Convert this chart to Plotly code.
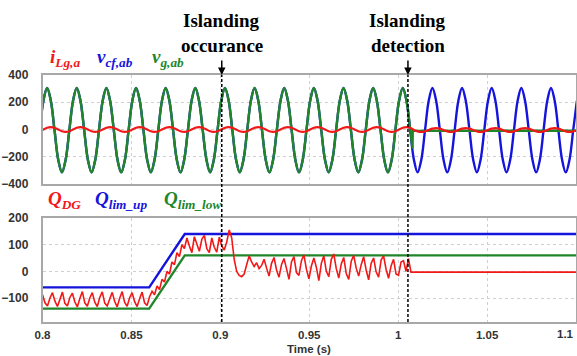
import numpy as np
import plotly.graph_objects as go

# ---------------- data ----------------
# top panel: samples every 1/480 s starting at t0
t0_top = 0.79843
n_top = 146
t_top = [round(t0_top + k / 480.0, 5) for k in range(n_top)]

# v_g,ab (grid voltage) - valid until islanding detection (k = 0..100)
vg_ab = [
    -5, 211, 305, 211, -5, -222, -315, -222,
    -5, 211, 305, 211, -5, -222, -315, -222,
    -5, 211, 305, 211, -5, -222, -315, -222,
    -5, 211, 305, 211, -5, -222, -315, -222,
    -5, 211, 305, 211, -5, -222, -315, -222,
    -5, 211, 305, 211, -5, -222, -315, -222,
    -5, 211, 305, 211, -5, -222, -315, -222,
    -5, 211, 305, 211, -5, -222, -315, -222,
    -5, 211, 305, 211, -5, -222, -315, -222,
    -5, 211, 305, 211, -5, -222, -315, -222,
    -5, 211, 305, 211, -5, -222, -315, -222,
    -5, 211, 305, 211, -5, -222, -315, -222,
    -5, 211, 305, 211, -5,
]
# v_g,ab after detection
vg_tail_t = [1.00677, 1.0081, 1.0082, 1.03, 1.06, 1.1]
vg_tail = [-5, -140, -10, -9, -10, -9]

# v_cf,ab (filter capacitor voltage) over whole window
vcf_ab = [
    -5, 211, 305, 211, -5, -222, -315, -222,
    -5, 211, 305, 211, -5, -222, -315, -222,
    -5, 211, 305, 211, -5, -222, -315, -222,
    -5, 211, 305, 211, -5, -222, -315, -222,
    -5, 211, 305, 211, -5, -222, -315, -222,
    -5, 211, 305, 211, -5, -222, -315, -222,
    -5, 211, 305, 211, -5, -222, -315, -222,
    -5, 211, 305, 211, -5, -222, -315, -222,
    -5, 211, 305, 211, -5, -222, -315, -222,
    -5, 211, 305, 211, -5, -222, -315, -222,
    -5, 211, 305, 211, -5, -222, -315, -222,
    -5, 211, 305, 211, -5, -222, -315, -222,
    -5, 211, 305, 211, -5, -222, -315, -222,
    -5, 211, 305, 211, -5, -222, -315, -222,
    -5, 211, 305, 211, -5, -222, -315, -222,
    -5, 211, 305, 211, -5, -222, -315, -222,
    -5, 211, 305, 211, -5, -222, -315, -222,
    -5, 211, 305, 211, -5, -222, -315, -222,
    -5, 211,
]

# i_Lg,a (grid-side inductor current)
i_lg_a = [
    -13, 0, 13, 18, 13, 0, -13, -18,
    -13, 0, 13, 18, 13, 0, -13, -18,
    -13, 0, 13, 18, 13, 0, -13, -18,
    -13, 0, 13, 18, 13, 0, -13, -18,
    -13, 0, 13, 18, 13, 0, -13, -18,
    -13, 0, 13, 18, 13, 0, -13, -18,
    -13, 0, 13, 18, 13, 0, -13, -18,
    -13, 0, 13, 18, 13, 0, -13, -18,
    -13, 0, 13, 18, 13, 0, -13, -18,
    -13, 0, 13, 18, 13, 0, -13, -18,
    -13, 0, 13, 18, 13, 0, -13, -18,
    -13, 0, 13, 18, 13, 0, -13, -18,
    -13, 0, 13, 18, 13, -4, -14, -18,
    -14, -4, 6, 10, 6, -4, -14, -18,
    -14, -4, 6, 10, 6, -4, -14, -18,
    -14, -4, 6, 10, 6, -4, -14, -18,
    -14, -4, 6, 10, 6, -4, -14, -18,
    -14, -4, 6, 10, 6, -4, -14, -18,
    -14, -4,
]

# bottom panel: reactive power, samples every 0.0014 s from 0.8
q_t = [round(0.8 + 0.0014 * k, 4) for k in range(149)] + [1.1]
q_dg = [
    -88, -118, -130, -100, -80, -112, -132, -105,
    -78, -120, -130, -98, -82, -115, -133, -102,
    -76, -118, -131, -100, -80, -116, -132, -98,
    -77, -119, -130, -104, -79, -113, -133, -101,
    -76, -117, -131, -99, -80, -114, -132, -103,
    -78, -118, -128,
    -95, -75, -88, -55, -68, -30, -40, 0, -10, 35, 25, 70, 55, 100, 85,
    125, 95, 70, 130, 100, 75, 120, 135, 85, 70, 125, 90, 72, 128,
    95, 80, 110, 155, 125, 45, 0, -15, -20, -10, 25, 58, 35, 18, 32, 10,
    22, 45, 12, -18, 30, 52, 5, -22, 25, 48, 10, -30, 35, 55, -5, -15,
    40, 62, 8, -28, 20, 50, 15, -35, 30, 58, 0, -20, 45, 65, 10, -25,
    28, 52, -8, -30, 38, 60, 12, -18, 25, 55, 5, -32, 30, 50, -2, -22,
    42, 58, 8, -26, 20, 45, -10, -15, 35, 40, 0, 48,
    -3, -3,
]
qlim_t = [0.8, 0.86, 0.88, 1.1]
q_lim_up = [-60, -60, 140, 140]
q_lim_low = [-140, -140, 60, 60]

t_islanding = 0.9008
t_detection = 1.0055

x_ticks = [0.8, 0.85, 0.9, 0.95, 1, 1.05, 1.1]
x_ticklabels = ["0.8", "0.85", "0.9", "0.95", "1", "1.05", "1.1"]
y1_ticks = [-400, -200, 0, 200, 400]
y2_ticks = [-100, 0, 100, 200]

# ---------------- figure ----------------
RED = "#f21818"
BLUE = "#1414dc"
GREEN = "#21862a"

fig = go.Figure()
fig.add_trace(go.Scatter(x=t_top, y=vcf_ab, mode="lines", line=dict(color=BLUE, width=2.4, shape="spline"),
                         xaxis="x", yaxis="y", hoverinfo="skip"))
fig.add_trace(go.Scatter(x=t_top[:len(vg_ab)], y=vg_ab, mode="lines",
                         line=dict(color=GREEN, width=2.4, shape="spline"), xaxis="x", yaxis="y", hoverinfo="skip"))
fig.add_trace(go.Scatter(x=vg_tail_t, y=vg_tail, mode="lines", line=dict(color=GREEN, width=2.4),
                         xaxis="x", yaxis="y", hoverinfo="skip"))
fig.add_trace(go.Scatter(x=t_top, y=i_lg_a, mode="lines", line=dict(color=RED, width=2.2, shape="spline"),
                         xaxis="x", yaxis="y", hoverinfo="skip"))

fig.add_trace(go.Scatter(x=qlim_t, y=q_lim_up, mode="lines", line=dict(color=BLUE, width=2.4),
                         xaxis="x2", yaxis="y2", hoverinfo="skip"))
fig.add_trace(go.Scatter(x=qlim_t, y=q_lim_low, mode="lines", line=dict(color=GREEN, width=2.4),
                         xaxis="x2", yaxis="y2", hoverinfo="skip"))
fig.add_trace(go.Scatter(x=q_t, y=q_dg, mode="lines", line=dict(color=RED, width=1.6),
                         xaxis="x2", yaxis="y2", hoverinfo="skip"))

XD = [42.5 / 577, 576 / 577]
TOP_DOM = [1 - 184 / 356, 1 - 75 / 356]
BOT_DOM = [1 - 322 / 356, 1 - 218 / 356]

tickfont = dict(family="Liberation Sans, Arial", size=12, color="#333333", weight="bold")
xtickfont = dict(family="Liberation Sans, Arial", size=11.5, color="#333333", weight="bold")
axis_common = dict(showline=True, mirror=True, linecolor="#a8a8a8", linewidth=1.5,
                   showgrid=True, gridcolor="#cfcfcf", griddash="dot", gridwidth=1,
                   zeroline=False, ticks="", automargin=False)

# last x tick label sits at the right frame edge: drawn right-aligned as an annotation
x_ticktext_axis = x_ticklabels[:-1] + [""]

fig.update_layout(
    width=577, height=356,
    margin=dict(l=0, r=0, t=0, b=0, autoexpand=False),
    paper_bgcolor="white", plot_bgcolor="white",
    showlegend=False,
    xaxis=dict(domain=XD, range=[0.8, 1.1], anchor="y", tickvals=x_ticks, showticklabels=False, **axis_common),
    yaxis=dict(domain=TOP_DOM, range=[-400, 400], anchor="x", tickvals=y1_ticks, ticklabelstandoff=10,
               tickfont=tickfont, **axis_common),
    xaxis2=dict(domain=XD, range=[0.8, 1.1], anchor="y2", tickvals=x_ticks, ticktext=x_ticktext_axis,
                ticklabelstandoff=1, tickfont=xtickfont, **axis_common),
    yaxis2=dict(domain=BOT_DOM, range=[-190, 200], anchor="x2", tickvals=y2_ticks, ticklabelstandoff=10,
                tickfont=tickfont, **axis_common),
)

fig.add_annotation(xref="x2", yref="paper", x=x_ticks[-1], y=1 - 334 / 356, text=x_ticklabels[-1],
                   showarrow=False, xanchor="right", yanchor="middle", font=xtickfont)

# x-axis title
fig.add_annotation(xref="paper", yref="paper", x=(XD[0] + XD[1]) / 2, y=1 - 348.5 / 356, text="Time (s)",
                   showarrow=False, xanchor="center", yanchor="middle",
                   font=dict(family="Liberation Sans, Arial", size=11.5, color="#333333", weight="bold"))

for tx in (t_islanding, t_detection):
    fig.add_shape(type="line", xref="x", yref="paper", x0=tx, x1=tx, y0=BOT_DOM[0], y1=TOP_DOM[1],
                  line=dict(color="black", width=1.5, dash="3px,2px"))
    fig.add_annotation(xref="x", yref="paper", x=tx, y=TOP_DOM[1], ax=0, ay=-16, text="",
                       showarrow=True, arrowhead=2, arrowsize=1, arrowwidth=1.5, arrowcolor="black")

title_font = dict(family="Liberation Serif, Times New Roman", size=19, color="black", weight="bold")
for tx, lines in ((t_islanding, ["Islanding", "occurance"]), (t_detection, ["Islanding", "detection"])):
    fig.add_annotation(xref="x", yref="paper", x=tx, y=1 - 20 / 356, text=lines[0], showarrow=False,
                       font=title_font, xanchor="center", yanchor="middle")
    fig.add_annotation(xref="x", yref="paper", x=tx, y=1 - 46 / 356, text=lines[1], showarrow=False,
                       font=title_font, xanchor="center", yanchor="middle")

leg_font = dict(family="Liberation Serif, Times New Roman", size=19, weight="bold", style="italic")
legend_items = [
    ("i<sub>Lg,a</sub>", RED, 48, 58),
    ("v<sub>cf,ab</sub>", BLUE, 95, 58),
    ("v<sub>g,ab</sub>", GREEN, 150, 58),
    ("Q<sub>DG</sub>", RED, 46, 200),
    ("Q<sub>lim_up</sub>", BLUE, 93, 200),
    ("Q<sub>lim_low</sub>", GREEN, 162, 200),
]
for txt, col, px, py in legend_items:
    fig.add_annotation(xref="paper", yref="paper", x=px / 577, y=1 - py / 356, text=txt, showarrow=False,
                       font=dict(color=col, **leg_font), xanchor="left", yanchor="middle")

fig.write_html("out.html", config={"displayModeBar": False},
               post_script="document.body.style.margin='0';document.body.style.overflow='hidden';")
